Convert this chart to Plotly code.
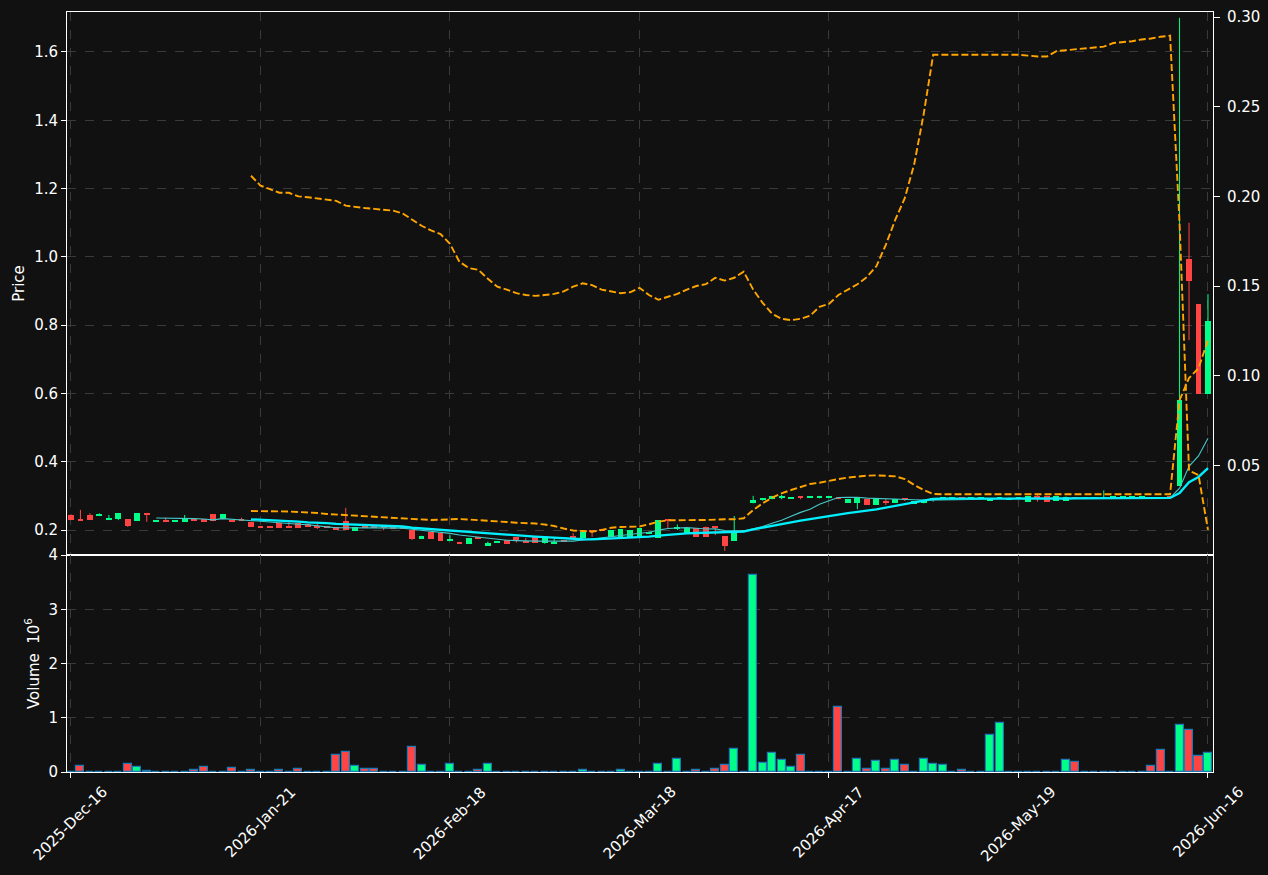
import plotly.graph_objects as go
import pandas as pd

# ---------------- data ----------------
tick_index = [0, 20, 40, 60, 80, 100, 120]
tick_labels = ["2025-Dec-16", "2026-Jan-21", "2026-Feb-18", "2026-Mar-18",
               "2026-Apr-17", "2026-May-19", "2026-Jun-16"]

opens = [0.244, 0.232, 0.244, 0.241, 0.229, 0.232, 0.232, 0.226, 0.250, 0.225,
         0.227, 0.225, 0.224, 0.231, 0.231, 0.247, 0.231, 0.229, 0.229, 0.224,
         0.212, 0.208, 0.221, 0.209, 0.221, 0.219, 0.209, 0.209, 0.209, 0.227,
         0.198, 0.209, 0.209, 0.212, 0.206, 0.206, 0.200, 0.175, 0.194, 0.191,
         0.168, 0.165, 0.160, 0.177, 0.154, 0.162, 0.171, 0.180, 0.166, 0.180,
         0.163, 0.160, 0.168, 0.182, 0.177, 0.199, 0.200, 0.179, 0.179, 0.179,
         0.180, 0.190, 0.177, 0.229, 0.205, 0.190, 0.205, 0.210, 0.208, 0.182,
         0.169, 0.195, 0.278, 0.288, 0.290, 0.295, 0.293, 0.296, 0.294, 0.293,
         0.293, 0.296, 0.280, 0.278, 0.291, 0.274, 0.282, 0.280, 0.291, 0.276,
         0.278, 0.289, 0.291, 0.293, 0.294, 0.293, 0.293, 0.286, 0.291, 0.289,
         0.293, 0.283, 0.296, 0.300, 0.286, 0.286, 0.295, 0.293, 0.293, 0.293,
         0.294, 0.294, 0.294, 0.294, 0.295, 0.295, 0.298, 0.329, 0.9935, 0.862,
         0.599]
highs = [0.246, 0.259, 0.249, 0.249, 0.244, 0.250, 0.232, 0.250, 0.250, 0.227,
         0.236, 0.227, 0.244, 0.231, 0.231, 0.247, 0.247, 0.229, 0.236, 0.224,
         0.212, 0.208, 0.221, 0.224, 0.221, 0.219, 0.224, 0.209, 0.209, 0.265,
         0.209, 0.209, 0.209, 0.212, 0.206, 0.206, 0.200, 0.183, 0.194, 0.191,
         0.185, 0.165, 0.177, 0.177, 0.166, 0.168, 0.171, 0.180, 0.177, 0.180,
         0.180, 0.177, 0.168, 0.191, 0.193, 0.199, 0.200, 0.200, 0.203, 0.200,
         0.205, 0.196, 0.229, 0.229, 0.216, 0.205, 0.205, 0.210, 0.210, 0.182,
         0.241, 0.195, 0.300, 0.294, 0.300, 0.303, 0.296, 0.299, 0.296, 0.300,
         0.300, 0.296, 0.291, 0.296, 0.291, 0.291, 0.291, 0.291, 0.291, 0.285,
         0.287, 0.292, 0.294, 0.293, 0.294, 0.293, 0.293, 0.293, 0.295, 0.295,
         0.293, 0.300, 0.302, 0.300, 0.300, 0.298, 0.295, 0.293, 0.293, 0.316,
         0.294, 0.294, 0.294, 0.294, 0.295, 0.295, 0.298, 1.700, 1.100, 0.862,
         0.891]
lows = [0.229, 0.229, 0.229, 0.241, 0.229, 0.229, 0.209, 0.226, 0.224, 0.225,
        0.225, 0.225, 0.224, 0.228, 0.224, 0.226, 0.231, 0.226, 0.227, 0.209,
        0.207, 0.207, 0.207, 0.206, 0.207, 0.209, 0.203, 0.207, 0.201, 0.201,
        0.198, 0.207, 0.207, 0.199, 0.205, 0.205, 0.171, 0.175, 0.175, 0.168,
        0.168, 0.160, 0.160, 0.175, 0.154, 0.162, 0.160, 0.163, 0.163, 0.163,
        0.160, 0.160, 0.165, 0.177, 0.177, 0.180, 0.198, 0.179, 0.179, 0.179,
        0.178, 0.190, 0.177, 0.206, 0.200, 0.190, 0.180, 0.180, 0.185, 0.139,
        0.169, 0.195, 0.278, 0.286, 0.290, 0.290, 0.293, 0.290, 0.294, 0.293,
        0.293, 0.290, 0.280, 0.261, 0.274, 0.274, 0.273, 0.280, 0.285, 0.276,
        0.278, 0.283, 0.291, 0.293, 0.292, 0.293, 0.293, 0.286, 0.291, 0.289,
        0.293, 0.283, 0.283, 0.283, 0.286, 0.286, 0.292, 0.293, 0.293, 0.293,
        0.294, 0.294, 0.294, 0.294, 0.293, 0.293, 0.296, 0.329, 0.756, 0.599,
        0.599]
closes = [0.229, 0.229, 0.229, 0.247, 0.235, 0.250, 0.212, 0.250, 0.244, 0.227,
          0.225, 0.227, 0.235, 0.228, 0.224, 0.226, 0.247, 0.226, 0.227, 0.209,
          0.207, 0.207, 0.207, 0.206, 0.207, 0.209, 0.207, 0.207, 0.201, 0.201,
          0.209, 0.207, 0.207, 0.205, 0.205, 0.205, 0.173, 0.183, 0.175, 0.168,
          0.174, 0.160, 0.177, 0.175, 0.162, 0.168, 0.160, 0.171, 0.163, 0.163,
          0.180, 0.166, 0.165, 0.177, 0.193, 0.196, 0.198, 0.200, 0.203, 0.200,
          0.205, 0.195, 0.229, 0.227, 0.207, 0.205, 0.180, 0.180, 0.206, 0.153,
          0.195, 0.195, 0.288, 0.293, 0.300, 0.296, 0.296, 0.294, 0.296, 0.300,
          0.300, 0.290, 0.291, 0.296, 0.274, 0.291, 0.280, 0.291, 0.289, 0.285,
          0.287, 0.291, 0.293, 0.293, 0.292, 0.293, 0.293, 0.293, 0.294, 0.295,
          0.293, 0.300, 0.294, 0.283, 0.300, 0.298, 0.292, 0.293, 0.293, 0.294,
          0.294, 0.294, 0.294, 0.294, 0.293, 0.293, 0.296, 0.581, 0.930, 0.599,
          0.812]
volume_millions = [0.0, 0.105, 0.0, 0.0, 0.008, 0.008, 0.142, 0.087, 0.025, 0.008,
                   0.008, 0.0, 0.0, 0.03, 0.087, 0.0, 0.008, 0.068, 0.0, 0.03,
                   0.008, 0.0, 0.03, 0.008, 0.05, 0.008, 0.008, 0.008, 0.307, 0.375,
                   0.105, 0.05, 0.05, 0.0, 0.0, 0.0, 0.455, 0.124, 0.008, 0.0,
                   0.142, 0.008, 0.0, 0.03, 0.142, 0.0, 0.0, 0.008, 0.0, 0.008,
                   0.008, 0.008, 0.0, 0.0, 0.03, 0.0, 0.0, 0.0, 0.03, 0.008,
                   0.0, 0.0, 0.142, 0.008, 0.235, 0.0, 0.03, 0.008, 0.05, 0.123,
                   0.42, 0.008, 3.64, 0.16, 0.346, 0.216, 0.086, 0.309, 0.008, 0.008,
                   0.008, 1.2, 0.008, 0.247, 0.062, 0.198, 0.05, 0.216, 0.123, 0.0,
                   0.247, 0.142, 0.123, 0.008, 0.03, 0.008, 0.0, 0.68, 0.90, 0.008,
                   0.008, 0.008, 0.0, 0.0, 0.0, 0.216, 0.18, 0.008, 0.0, 0.0,
                   0.0, 0.0, 0.0, 0.0, 0.105, 0.40, 0.0, 0.864, 0.77, 0.29,
                   0.346]

band_start = 19
band_upper = [0.2556, 0.2556, 0.2556, 0.2548, 0.2542, 0.2527, 0.2518, 0.2498, 0.2469, 0.2454,
              0.2419, 0.2410, 0.2390, 0.2381, 0.2366, 0.2351, 0.2337, 0.2322, 0.2302, 0.2293,
              0.2302, 0.2313, 0.2322, 0.2307, 0.2284, 0.2264, 0.2249, 0.2234, 0.2214, 0.2205,
              0.2190, 0.2161, 0.2117, 0.2044, 0.1985, 0.1971, 0.1950, 0.2000, 0.2067, 0.2088,
              0.2097, 0.2102, 0.2167, 0.2243, 0.2284, 0.2293, 0.2293, 0.2293, 0.2293, 0.2307,
              0.2313, 0.2313, 0.2343, 0.2586, 0.2782, 0.2946, 0.3075, 0.3171, 0.3259, 0.3347,
              0.3385, 0.3450, 0.3493, 0.3537, 0.3572, 0.3590, 0.3602, 0.3590, 0.3572, 0.3493,
              0.3318, 0.3171, 0.3054, 0.3045, 0.3045, 0.3045, 0.3045, 0.3045, 0.3045, 0.3045,
              0.3045, 0.3025, 0.3025, 0.3025, 0.3045, 0.3045, 0.3045, 0.3045, 0.3045, 0.3045,
              0.3045, 0.3045, 0.3045, 0.3045, 0.3045, 0.3045, 0.3045, 0.3045, 0.580, 0.645,
              0.674, 0.756]
band_lower = [0.2115, 0.2060, 0.2040, 0.2020, 0.2020, 0.2000, 0.1995, 0.1987, 0.1980, 0.1975,
              0.1948, 0.1940, 0.1935, 0.1930, 0.1925, 0.1920, 0.1905, 0.1870, 0.1836, 0.1810,
              0.1790, 0.1735, 0.1635, 0.1600, 0.1590, 0.1540, 0.1496, 0.1480, 0.1460, 0.1450,
              0.1445, 0.1450, 0.1456, 0.1470, 0.1496, 0.1515, 0.1505, 0.1480, 0.1470, 0.1460,
              0.1465, 0.1490, 0.1450, 0.1423, 0.1440, 0.1456, 0.1480, 0.1500, 0.1510, 0.1546,
              0.1530, 0.1546, 0.1580, 0.1480, 0.1406, 0.1345, 0.1317, 0.1310, 0.1317, 0.1334,
              0.1384, 0.1400, 0.1450, 0.1480, 0.1510, 0.1550, 0.1610, 0.1730, 0.1870, 0.1990,
              0.2180, 0.2460, 0.2790, 0.2790, 0.2790, 0.2790, 0.2790, 0.2790, 0.2790, 0.2790,
              0.2790, 0.2790, 0.2785, 0.2780, 0.2780, 0.2810, 0.2815, 0.2820, 0.2825, 0.2830,
              0.2835, 0.2855, 0.2860, 0.2865, 0.2875, 0.2880, 0.2890, 0.2896, 0.185, 0.047,
              0.0446, 0.014]

# ---------------- styling ----------------
UP = "#00ff88"
DOWN = "#ff4444"
BG = "#111111"
GRID = "#3a3a3a"
FONT = "DejaVu Sans"
FS = 15

n = len(closes)
idx = list(range(n))
band_x = list(range(band_start, band_start + len(band_upper)))

close_s = pd.Series(closes)
mav10 = close_s.rolling(10).mean()
mav20 = close_s.rolling(20).mean()

fig = go.Figure()

# candle bodies + wicks
for is_up, col in [(True, UP), (False, DOWN)]:
    sel = [i for i in idx if (closes[i] >= opens[i]) == is_up]
    base = [min(opens[i], closes[i]) for i in sel]
    hgt = [max(abs(closes[i] - opens[i]), 0.003) for i in sel]
    fig.add_trace(go.Bar(x=sel, y=hgt, base=base, width=0.62,
                         marker=dict(color=col, line=dict(width=0)),
                         xaxis="x", yaxis="y", showlegend=False, hoverinfo="skip"))
    wx, wy = [], []
    for i in sel:
        wx += [i, i, None]
        wy += [lows[i], highs[i], None]
    fig.add_trace(go.Scatter(x=wx, y=wy, mode="lines",
                             line=dict(color=col, width=1),
                             xaxis="x", yaxis="y", showlegend=False, hoverinfo="skip"))

# moving averages
fig.add_trace(go.Scatter(x=idx, y=mav10, mode="lines",
                         line=dict(color="#45c9c9", width=1.1),
                         xaxis="x", yaxis="y", showlegend=False, hoverinfo="skip"))
fig.add_trace(go.Scatter(x=idx, y=mav20, mode="lines",
                         line=dict(color="#00f0ff", width=2.3),
                         xaxis="x", yaxis="y", showlegend=False, hoverinfo="skip"))

# bands
fig.add_trace(go.Scatter(x=band_x, y=band_upper, mode="lines",
                         line=dict(color="#ffa500", width=1.9, dash="7px,3px"),
                         xaxis="x", yaxis="y", showlegend=False, hoverinfo="skip"))
fig.add_trace(go.Scatter(x=band_x, y=band_lower, mode="lines",
                         line=dict(color="#ffa500", width=1.9, dash="7px,3px"),
                         xaxis="x", yaxis="y2", showlegend=False, hoverinfo="skip"))

# volume
vol_colors = [UP if closes[i] >= opens[i] else DOWN for i in idx]
fig.add_trace(go.Bar(x=idx, y=volume_millions, width=0.85,
                     marker=dict(color=vol_colors, line=dict(color="#1f77b4", width=1.2)),
                     xaxis="x2", yaxis="y3", showlegend=False, hoverinfo="skip"))

xdom = [67 / 1268, 1213 / 1268]
price_dom = [1 - 555 / 875, 1 - 12 / 875]
vol_dom = [1 - 772 / 875, 1 - 555 / 875]
xr = [-0.42, 120.53]

tickfont = dict(color="white", size=FS, family=FONT)
axis_common = dict(showline=True, linecolor="white", linewidth=1, mirror=True,
                   zeroline=False, ticks="outside", tickcolor="white", ticklen=5,
                   tickfont=tickfont, gridcolor=GRID, griddash="dash", gridwidth=1,
                   automargin=False)

# rotated date labels, centred under each tick (matplotlib style)
annotations = [dict(x=t, y=vol_dom[0], xref="x2", yref="paper", text=lab,
                    showarrow=False, textangle=-45, xanchor="center", yanchor="top",
                    yshift=-8, font=tickfont)
               for t, lab in zip(tick_index, tick_labels)]

fig.update_layout(
    width=1268, height=875, autosize=False,
    margin=dict(l=0, r=0, t=0, b=0),
    paper_bgcolor=BG, plot_bgcolor=BG,
    barmode="overlay", bargap=0,
    font=dict(family=FONT, color="white", size=FS),
    showlegend=False,
    annotations=annotations,
    xaxis=dict(domain=xdom, range=xr, anchor="y", tickvals=tick_index,
               showticklabels=False, showgrid=True,
               **{k: v for k, v in axis_common.items() if k != "ticks"}, ticks=""),
    xaxis2=dict(domain=xdom, range=xr, anchor="y3", matches="x",
                tickvals=tick_index, showticklabels=False,
                showgrid=True, **axis_common),
    yaxis=dict(domain=price_dom, range=[0.12679, 1.7171], anchor="x",
               tickvals=[0.2, 0.4, 0.6, 0.8, 1.0, 1.2, 1.4, 1.6], tickformat=".1f",
               title=dict(text="Price", font=tickfont, standoff=5),
               showgrid=True, **axis_common),
    yaxis2=dict(overlaying="y", side="right", range=[0.0, 0.3028], anchor="x",
                tickvals=[0.05, 0.10, 0.15, 0.20, 0.25, 0.30], tickformat=".2f",
                showgrid=False, showline=True, linecolor="white", linewidth=1,
                zeroline=False, ticks="outside", tickcolor="white", ticklen=6,
                ticklabelstandoff=4, tickfont=tickfont, automargin=False),
    yaxis3=dict(domain=vol_dom, range=[0, 4.0], anchor="x2",
                tickvals=[0, 1, 2, 3, 4],
                title=dict(text="Volume  10<sup>6</sup>", font=tickfont, standoff=5),
                showgrid=True, **axis_common),
)

fig.write_html("out.html")
